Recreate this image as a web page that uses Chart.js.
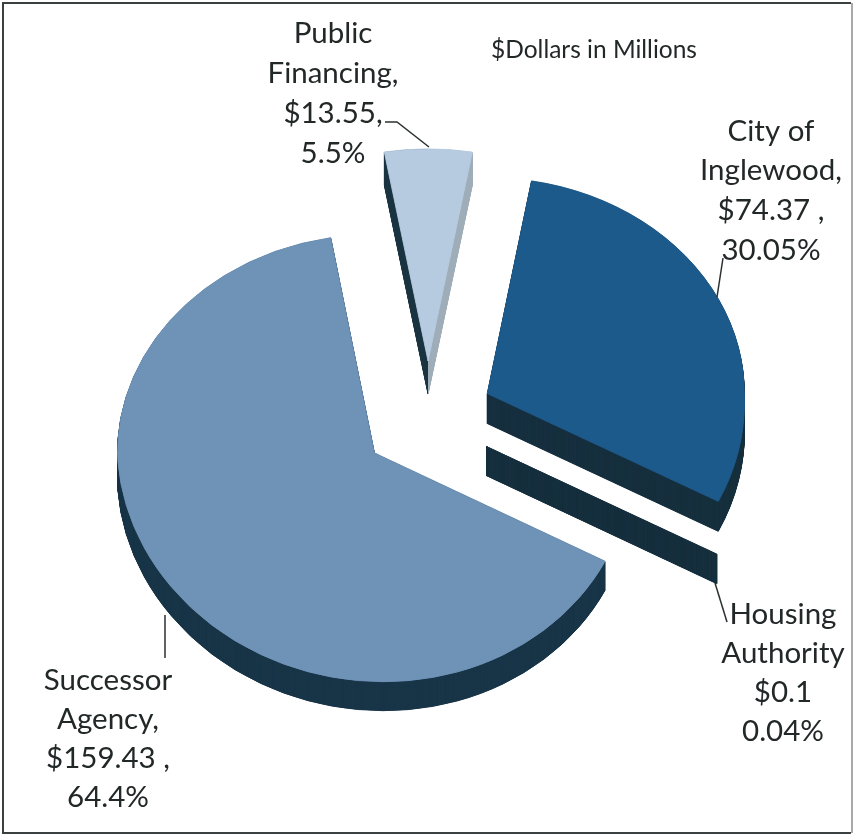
<!DOCTYPE html>
<html>
<head>
<meta charset="utf-8">
<style>
  html, body { margin: 0; padding: 0; background: #fff; }
  canvas { display: block; }
</style>
<script src="https://cdn.jsdelivr.net/npm/chart.js@4/dist/chart.umd.min.js"></script>
</head>
<body>
<canvas id="pie" width="854" height="835"></canvas>
<script>
// ---- data ------------------------------------------------------------------
const categories = ['Public Financing', 'City of Inglewood', 'Housing Authority', 'Successor Agency'];
const amounts    = [13.55, 74.37, 0.1, 159.43];

const labelPublic    = ['Public', 'Financing,', '$13.55,', '5.5%'];
const labelCity      = ['City of', 'Inglewood,', '$74.37 ,', '30.05%'];
const labelHousing   = ['Housing', 'Authority', '$0.1', '0.04%'];
const labelSuccessor = ['Successor', 'Agency,', '$159.43 ,', '64.4%'];
const noteText       = '$Dollars in Millions';

// ---- look ------------------------------------------------------------------
const TOP_COLORS  = ['#b6cbe0', '#1d5a8c', '#17303f', '#6f93b7'];
const WALL_COLORS = ['#1a3340', '#17303f', '#17303f', '#193648'];
const PUBLIC_WALL_RIGHT = '#9fadb9';
const TEXT_COLOR  = '#222727';
const FONT = 'Lato, "Open Sans", sans-serif';

const EXPLODE = 66;      // how far each slice moves out from the middle
const DEPTHS = [33, 30, 29, 29];            // wall height per slice, px
const TILT = 0.88;                          // squash applied to the explosion offsets
const TILT_FAR = [0.825, 0.84, 0.84, 0.85]; // squash above a slice's apex (perspective, far side)
const TILT_NEAR = 0.89;                     // squash below it (near side)
const SHEAR_NEAR = 0.035;                   // near side leans a little to the right

// draw one arc element squashed about its exploded apex, split in two halves
function drawTilted(ctx, arc, i, color, shift) {
  const mid = (arc.startAngle + arc.endAngle) / 2;
  const ax = arc.x + Math.cos(mid) * EXPLODE;
  const ay = arc.y + Math.sin(mid) * EXPLODE * TILT + shift;
  const saved = arc.options;
  arc.options = { ...saved, backgroundColor: color, borderColor: color, borderWidth: 1 };
  [[0, ay + 0.5, TILT_FAR[i], 0], [ay - 0.5, 835, TILT_NEAR, SHEAR_NEAR]].forEach(([y0, y1, k, s]) => {
    ctx.save();
    ctx.beginPath();
    ctx.rect(0, y0, 854, y1 - y0);
    ctx.clip();
    ctx.transform(1, 0, s, k, ax, ay);
    ctx.translate(-arc.x, -arc.y);
    arc.draw(ctx);
    ctx.restore();
  });
  arc.options = saved;
}

const tiltedPiePlugin = {
  id: 'tiltedPie',
  beforeDatasetsDraw(chart) {
    const ctx = chart.ctx;
    const arcs = chart.getDatasetMeta(0).data;
    arcs.forEach((arc, i) => {
      let wall = WALL_COLORS[i];
      if (i === 0) {
        // public slice: left wall dark, right wall lit
        wall = ctx.createLinearGradient(arc.x - 1, 0, arc.x + 1, 0);
        wall.addColorStop(0.5, WALL_COLORS[0]);
        wall.addColorStop(0.5, PUBLIC_WALL_RIGHT);
      }
      for (let t = DEPTHS[i]; t >= 0.5; t -= 0.5) drawTilted(ctx, arc, i, wall, t);
    });
    arcs.forEach((arc, i) => drawTilted(ctx, arc, i, TOP_COLORS[i], 0));
    return false;
  },
};

const labelsPlugin = {
  id: 'sliceLabels',
  afterDraw(chart) {
    const ctx = chart.ctx;
    ctx.save();

    // frame
    ctx.strokeStyle = '#3a3f3f';
    ctx.lineWidth = 2;
    ctx.beginPath();
    ctx.moveTo(851, 3); ctx.lineTo(3, 3); ctx.lineTo(3, 833); ctx.lineTo(851, 833);
    ctx.stroke();
    ctx.strokeStyle = '#a9a9a9';
    ctx.beginPath();
    ctx.moveTo(852, 3); ctx.lineTo(852, 833);
    ctx.stroke();

    // leader lines
    ctx.strokeStyle = '#2b3030';
    ctx.lineWidth = 1.5;
    [
      [[385, 122], [397, 122], [429, 147]],
      [[723, 258], [717, 297]],
      [[715, 583], [727, 622]],
      [[165, 615], [165, 658]],
    ].forEach(pts => {
      ctx.beginPath();
      pts.forEach(([x, y], i) => (i ? ctx.lineTo(x, y) : ctx.moveTo(x, y)));
      ctx.stroke();
    });

    // labels
    ctx.fillStyle = TEXT_COLOR;
    ctx.textAlign = 'center';
    ctx.textBaseline = 'middle';
    ctx.font = '29.5px ' + FONT;
    [
      [labelPublic, 333, 33, 40],
      [labelCity, 771, 131, 39.7],
      [labelHousing, 783, 614, 39],
      [labelSuccessor, 108, 680, 39],
    ].forEach(([lines, x, y, gap]) => {
      lines.forEach((line, i) => ctx.fillText(line, x, y + i * gap));
    });
    ctx.font = '24.5px ' + FONT;
    ctx.fillText(noteText, 594, 50);
    ctx.restore();
  },
};

new Chart(document.getElementById('pie').getContext('2d'), {
  type: 'pie',
  data: {
    labels: categories,
    datasets: [{ data: amounts, backgroundColor: TOP_COLORS, borderWidth: 0 }],
  },
  plugins: [tiltedPiePlugin, labelsPlugin],
  options: {
    responsive: false,
    animation: false,
    rotation: -9.8,
    layout: { padding: { left: 171, right: 169, top: 162, bottom: 159 } },
    plugins: {
      legend: { display: false },
      tooltip: { enabled: false },
    },
  },
});
</script>
</body>
</html>
